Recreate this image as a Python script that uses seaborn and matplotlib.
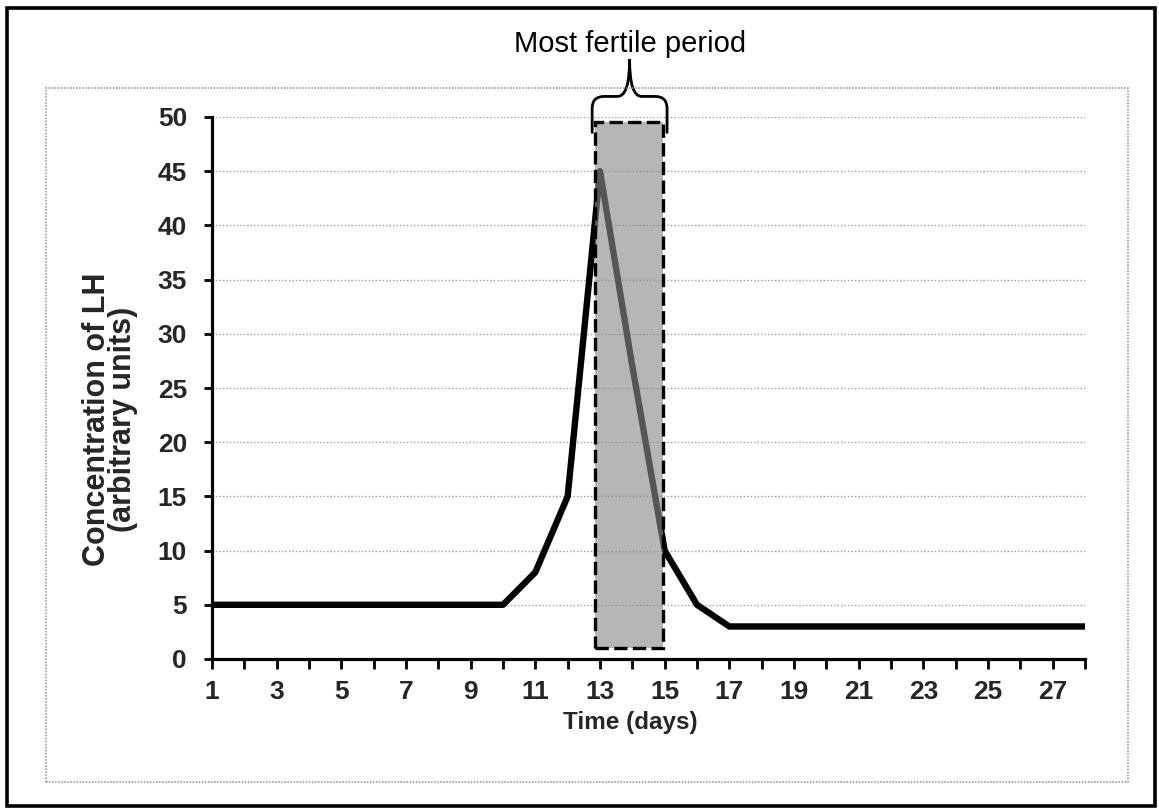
import numpy as np
import pandas as pd
import matplotlib
matplotlib.use("Agg")
import matplotlib.pyplot as plt
import seaborn as sns
from matplotlib.patches import Rectangle, PathPatch
from matplotlib.path import Path

# ---- data ----
days = list(range(1, 29))
lh = [5, 5, 5, 5, 5, 5, 5, 5, 5, 5,
      8, 15, 45, 27, 10, 5,
      3, 3, 3, 3, 3, 3, 3, 3, 3, 3, 3, 3]
yticks = [0, 5, 10, 15, 20, 25, 30, 35, 40, 45, 50]
xtick_labels = [str(d) if d % 2 == 1 else "" for d in days]
fertile_period = [12.85, 14.95]
fertile_levels = [1, 49.5]
title_text = "Most fertile period"
xlabel_text = "Time (days)"
ylabel_text = "Concentration of LH\n(arbitrary units)"

sns.set_style("white")
plt.rcParams["font.family"] = ["Liberation Sans", "DejaVu Sans"]

W, H = 1159, 809
fig = plt.figure(figsize=(W / 100, H / 100), dpi=100)
fig.patch.set_facecolor("white")
ax = fig.add_axes([212 / W, 1 - 659 / H, (1085 - 212) / W, (659 - 117) / H])

df = pd.DataFrame({"day": days, "lh": lh})
sns.lineplot(data=df, x="day", y="lh", ax=ax, color="black", lw=4.6,
             solid_joinstyle="round", zorder=3)

ax.set_xlim(1, 28)
ax.set_ylim(0, 50)
ax.set_xticks(days)
ax.set_xticklabels(xtick_labels)
ax.set_yticks(yticks)
ax.set_yticklabels([str(v) for v in yticks])
ax.tick_params(axis="x", bottom=True, direction="out", length=7, width=2,
               pad=8, labelsize=19, color="black")
ax.tick_params(axis="y", left=True, direction="out", length=6, width=2,
               pad=12, labelsize=19, color="black")
for lab in ax.get_xticklabels() + ax.get_yticklabels():
    lab.set_fontweight("bold")

ax.yaxis.grid(True, color="#a0a0a0", linestyle=(0, (1, 1.5)), lw=1.0)
ax.xaxis.grid(False)
for s in ["top", "right"]:
    ax.spines[s].set_visible(False)
for s in ["left", "bottom"]:
    ax.spines[s].set_color("black")
    ax.spines[s].set_linewidth(2.3)
ax.set_facecolor("none")

ax.set_xlabel(xlabel_text, fontsize=17.5, fontweight="bold")
ax.xaxis.set_label_coords((630 - 212) / 873, (659 - 722) / 542)
ax.xaxis.label.set_va("center")
ax.set_ylabel(ylabel_text, fontsize=22, fontweight="bold", linespacing=0.8)
ax.yaxis.set_label_coords((110 - 212) / 873, (659 - 419) / 542)
ax.yaxis.label.set_va("center")

# shaded fertile window
x0, x1 = fertile_period
y0, y1 = fertile_levels
ax.add_patch(Rectangle((x0, y0), x1 - x0, y1 - y0, facecolor="#8a8a8a",
                       alpha=0.62, edgecolor="none", zorder=4))
ax.add_patch(Rectangle((x0, y0), x1 - x0, y1 - y0, fill=False,
                       edgecolor="black", lw=2.4, linestyle=(0, (4, 1.6)),
                       zorder=5))

# curly bracket above the window
px = 1 / 32.33   # data units per pixel (x)
py = 1 / 10.84   # data units per pixel (y)
bx0, bx1 = x0 - 3 * px, x1 + 4 * px
bc = (bx0 + bx1) / 2
yb, yh, yt = y1 - 10 * py, y1 + 26 * py, y1 + 63 * py
rx, ry = 12 * px, 12 * py
verts = [(bx0, yb), (bx0, yh - ry), (bx0, yh), (bx0 + rx, yh),
         (bc - rx, yh), (bc, yh), (bc, yt),
         (bc, yh), (bc + rx, yh),
         (bx1 - rx, yh), (bx1, yh), (bx1, yh - ry), (bx1, yb)]
codes = [Path.MOVETO, Path.LINETO, Path.CURVE3, Path.CURVE3,
         Path.LINETO, Path.CURVE3, Path.CURVE3,
         Path.CURVE3, Path.CURVE3,
         Path.LINETO, Path.CURVE3, Path.CURVE3, Path.LINETO]
ax.add_patch(PathPatch(Path(verts, codes), fill=False, edgecolor="black",
                       lw=2.0, clip_on=False, zorder=6, capstyle="round"))

fig.text(630 / W, 1 - 52 / H, title_text, ha="center", va="baseline",
         fontsize=21, color="black")

# frames
fig.patches.append(Rectangle((46 / W, 1 - 782 / H), (1128 - 46) / W,
                             (782 - 88) / H, transform=fig.transFigure,
                             fill=False, edgecolor="#8c8c8c", lw=1.1,
                             linestyle=(0, (1, 1))))
fig.patches.append(Rectangle((7 / W, 1 - 806 / H), (1155 - 7) / W,
                             (806 - 8) / H, transform=fig.transFigure,
                             fill=False, edgecolor="black", lw=2.6))

fig.savefig("out.png", dpi=100)
